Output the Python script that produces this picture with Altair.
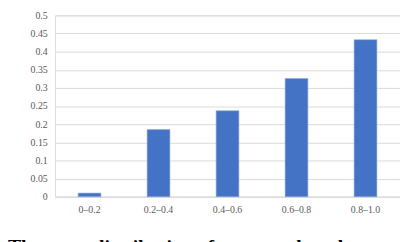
import altair as alt
import pandas as pd

categories = ["0–0.2", "0.2–0.4", "0.4–0.6", "0.6–0.8", "0.8–1.0"]
values = [0.010, 0.185, 0.237, 0.326, 0.433]
y_ticks = [0, 0.05, 0.1, 0.15, 0.2, 0.25, 0.3, 0.35, 0.4, 0.45, 0.5]
caption = ["The score distribution of response lengths"]

df = pd.DataFrame({"range": categories, "value": values})
cap_df = pd.DataFrame({"text": caption})

serif = "Liberation Serif"

bars = alt.Chart(df).mark_bar(color="#4472C4", stroke="#8faadc", strokeWidth=0.6).encode(
    x=alt.X(
        "range:N",
        sort=categories,
        title=None,
        scale=alt.Scale(paddingInner=0.67, paddingOuter=0.335),
        axis=alt.Axis(
            labelAngle=0,
            labelFont=serif,
            labelFontSize=10,
            labelColor="#595959",
            labelPadding=8,
            ticks=False,
            domain=True,
            domainColor="#d9d9d9",
            grid=False,
        ),
    ),
    y=alt.Y(
        "value:Q",
        title=None,
        scale=alt.Scale(domain=[0, 0.5], nice=False),
        axis=alt.Axis(
            values=y_ticks,
            format=".2~f",
            labelFont=serif,
            labelFontSize=10,
            labelColor="#595959",
            labelPadding=8,
            ticks=False,
            domain=False,
            grid=True,
            gridColor="#d9d9d9",
            gridWidth=1,
        ),
    ),
)

cap = alt.Chart(cap_df).mark_text(
    font=serif,
    fontSize=20,
    fontWeight="bold",
    color="#000000",
    align="left",
    baseline="alphabetic",
).encode(
    text="text:N",
    x=alt.value(-48),
    y=alt.value(242),
)

chart = (
    alt.layer(bars, cap)
    .properties(
        width=352,
        height=185,
        autosize=alt.AutoSizeParams(type="none"),
        padding={"left": 48, "top": 5, "right": 0, "bottom": 60},
    )
    .configure_view(stroke=None)
    .configure(background="white")
)

chart.save("out.html", embed_options={"renderer": "svg", "actions": False})
